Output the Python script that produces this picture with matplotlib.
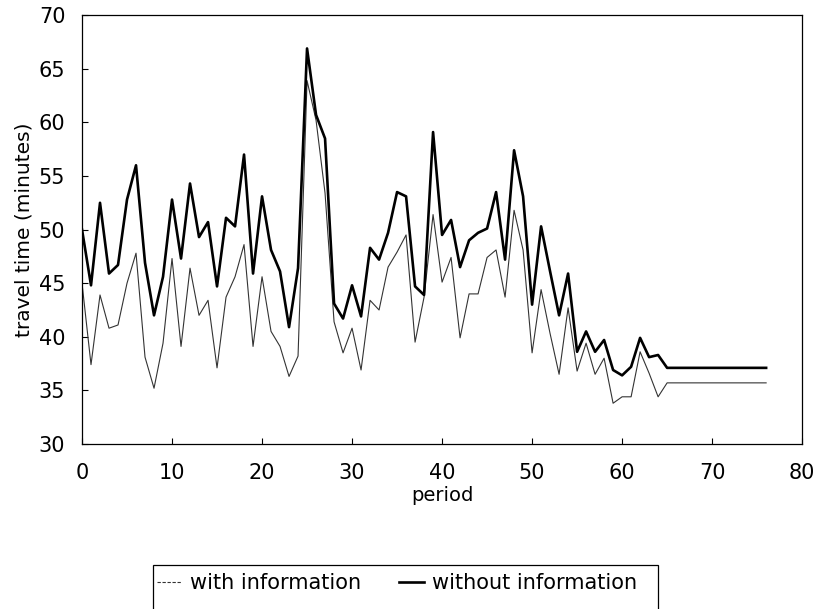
import numpy as np
import matplotlib.pyplot as plt
from matplotlib.lines import Line2D
from matplotlib.patches import Rectangle

period = np.arange(0, 77)

without_info = [
    50.0, 44.8, 52.5, 45.9, 46.7, 52.8, 56.0, 46.9, 42.0, 45.6,
    52.8, 47.3, 54.3, 49.3, 50.7, 44.7, 51.1, 50.3, 57.0, 45.9,
    53.1, 48.1, 46.1, 40.9, 46.4, 66.9, 60.7, 58.5, 43.1, 41.7,
    44.8, 41.9, 48.3, 47.2, 49.7, 53.5, 53.1, 44.7, 43.9, 59.1,
    49.5, 50.9, 46.5, 49.0, 49.7, 50.1, 53.5, 47.2, 57.4, 53.1,
    43.0, 50.3, 46.1, 42.0, 45.9, 38.6, 40.5, 38.6, 39.7, 36.9,
    36.4, 37.2, 39.9, 38.1, 38.3, 37.1, 37.1, 37.1, 37.1, 37.1,
    37.1, 37.1, 37.1, 37.1, 37.1, 37.1, 37.1,
]

with_info = [
    45.0, 37.4, 43.9, 40.8, 41.1, 45.0, 47.8, 38.1, 35.2, 39.4,
    47.3, 39.1, 46.4, 42.0, 43.4, 37.1, 43.7, 45.6, 48.6, 39.1,
    45.6, 40.5, 39.1, 36.3, 38.2, 63.9, 60.2, 53.4, 41.4, 38.5,
    40.8, 36.9, 43.4, 42.5, 46.5, 47.9, 49.5, 39.5, 43.7, 51.4,
    45.1, 47.4, 39.9, 44.0, 44.0, 47.4, 48.1, 43.7, 51.8, 48.1,
    38.5, 44.4, 40.3, 36.5, 42.7, 36.8, 39.4, 36.5, 38.0, 33.8,
    34.4, 34.4, 38.6, 36.6, 34.4, 35.7, 35.7, 35.7, 35.7, 35.7,
    35.7, 35.7, 35.7, 35.7, 35.7, 35.7, 35.7,
]


def main():
    plt.rcParams['font.family'] = 'DejaVu Sans'
    fig = plt.figure(figsize=(8.16, 6.09), dpi=100)
    ax = fig.add_axes([0.1005, 0.271, 0.8825, 0.704])

    ax.plot(period, with_info, color='#333333', lw=0.8)
    ax.plot(period, without_info, color='black', lw=1.9)

    ax.set_xlim(0, 80)
    ax.set_ylim(30, 70)
    ax.set_xticks(range(0, 81, 10))
    ax.set_yticks(range(30, 71, 5))
    ax.tick_params(direction='in', length=4, labelsize=15, colors='black')
    ax.tick_params(axis='x', pad=14)
    ax.tick_params(axis='y', pad=12)
    ax.set_xlabel('period', fontsize=14, labelpad=2)
    ax.set_ylabel('travel time (minutes)', fontsize=14.5)
    ax.yaxis.set_label_coords(-0.067, 0.5)
    for s in ax.spines.values():
        s.set_linewidth(0.9)

    # legend box runs off the bottom edge as in the original
    fig.patches.append(Rectangle(
        (153 / 816, -0.05), 505 / 816, 0.05 + (609 - 565) / 609,
        transform=fig.transFigure, fill=False, edgecolor='black',
        linewidth=0.9, clip_on=False,
    ))

    handles = [
        Line2D([], [], color='#333333', lw=0.8, linestyle=(0, (3, 1.5))),
        Line2D([], [], color='black', lw=1.9),
    ]
    fig.legend(
        handles, ['with information', 'without information'],
        loc='upper left',
        bbox_to_anchor=(157 / 816, 1 - 573 / 609),
        ncol=2,
        fontsize=15,
        frameon=False,
        handlelength=1.2,
        handletextpad=0.4,
        columnspacing=1.8,
        borderpad=0,
        borderaxespad=0,
    )

    fig.savefig('out.png', dpi=100)


if __name__ == '__main__':
    main()
